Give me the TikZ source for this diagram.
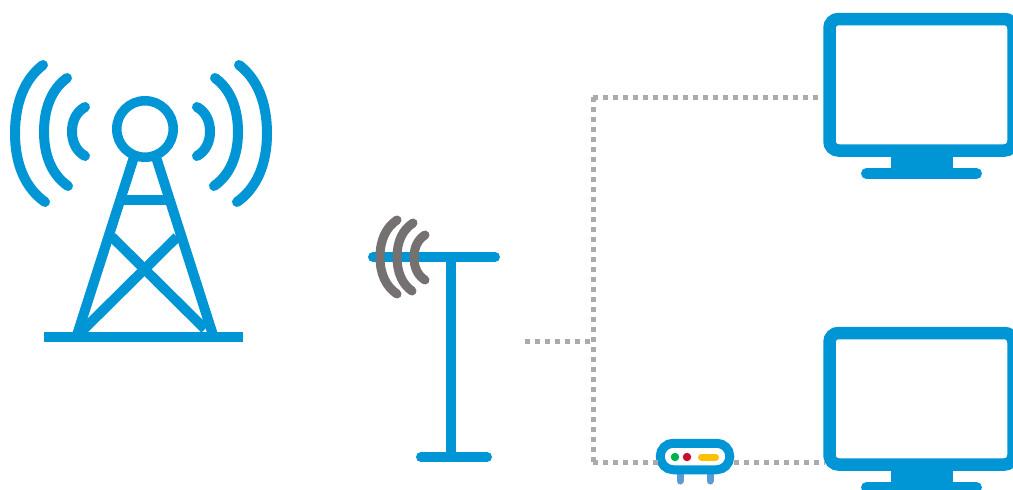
\documentclass[tikz,border=0pt]{standalone}
\usetikzlibrary{calc}
\definecolor{mainblue}{HTML}{0096D6}
\definecolor{wavegrey}{HTML}{767171}
\definecolor{dotgrey}{HTML}{ABABAB}
\definecolor{legblue}{HTML}{5B9BD5}
\definecolor{ledgreen}{HTML}{00B050}
\definecolor{ledred}{HTML}{C8102E}
\definecolor{ledyellow}{HTML}{FFC000}
% a wave: start x,y  middle x  end x,y
\newcommand{\wavearc}[6][]{%
  \draw[#1] (#2,#3)
    .. controls ({#4+0.35*(#2-#4)},{#3+0.2*((#3+#6)/2-#3)}) and (#4,{(#3+#6)/2-0.45*((#3+#6)/2-#3)}) .. (#4,{(#3+#6)/2})
    .. controls (#4,{(#3+#6)/2+0.45*(#6-(#3+#6)/2)}) and ({#4+0.35*(#5-#4)},{#6-0.2*(#6-(#3+#6)/2)}) .. (#5,#6);}
\tikzset{
  bluebar/.style={draw=mainblue,line width=10pt},
  bluewave/.style={draw=mainblue,line width=10pt,line cap=round},
  greywave/.style={draw=wavegrey,line width=9pt,line cap=round},
  roundbar/.style={draw=mainblue,line width=10pt,line cap=round},
  link/.style={draw=dotgrey,line width=5pt,dash pattern=on 5pt off 5pt},
  screen/.style={draw=mainblue,line width=12.5pt,rounded corners=9pt,fill=white,minimum width=184pt,minimum height=131.5pt,inner sep=0pt,outer sep=0pt},
  modem/.style={draw=mainblue,line width=9pt,rounded corners=13pt,fill=white,minimum width=69.5pt,minimum height=26.5pt,inner sep=0pt,outer sep=0pt},
  led/.style={circle,minimum size=8.5pt,inner sep=0pt},
}
\begin{document}
\begin{tikzpicture}[x=1pt,y=-1pt]
\useasboundingbox (0,0) rectangle (1013,490);
\fill[white] (0,0) rectangle (1013,490);
% ---- tower
\draw[bluebar] (134,157) -- (77,335);
\draw[bluebar] (156,157) -- (213,335);
\draw[bluebar] (124,200) -- (166,200);
\draw[bluebar] (112,237) -- (205,329);
\draw[bluebar] (177,237) -- (81,332);
\draw[draw=mainblue,line width=10pt] (44,337) -- (243,337);
\node[draw=mainblue,line width=9.5pt,circle,minimum size=56.5pt,inner sep=0pt,outer sep=0pt] (head) at (145,129) {};
\wavearc[bluewave]{43}{65}{15}{45}{202}
\wavearc[bluewave]{67}{78}{44}{68}{186}
\wavearc[bluewave]{85}{107}{72}{85}{156}
\wavearc[bluewave]{239}{65}{267}{237}{202}
\wavearc[bluewave]{215}{78}{238}{214}{186}
\wavearc[bluewave]{197}{107}{210}{197}{156}
% ---- mast
\draw[bluebar] (451,257) -- (451,457);
\draw[roundbar] (373,257) -- (495,257);
\draw[roundbar] (421,457) -- (487,457);
\wavearc[greywave]{397}{220}{380}{397}{294}
\wavearc[greywave]{413}{223}{397}{412}{291}
\wavearc[greywave]{425}{235}{414}{425}{280}
% ---- coordinates of the wiring
\coordinate (feed) at (525,341);
\coordinate (junction) at (593,341);
\coordinate (corner top) at (593,97);
\coordinate (corner bottom) at (593,462);
\coordinate (top end) at (820,97);
\coordinate (bottom end) at (825,462);
% ---- monitors
\foreach \n/\dy in {monitor one/0,monitor two/314}{
  \fill[mainblue] (891,{155+\dy}) rectangle (953,{170+\dy});
  \draw[draw=mainblue,line width=11pt,line cap=round] (866.5,{173.5+\dy}) -- (976.5,{173.5+\dy});
  \node[screen] (\n) at (921.5,{84.75+\dy}) {};
}
% ---- router
\draw[draw=legblue,line width=7pt,line cap=round] (680,472) -- (680,481);
\draw[draw=legblue,line width=7pt,line cap=round] (710,472) -- (710,481);
\node[modem] (router) at (695,456.5) {};
\node[led,fill=ledgreen] (green led) at (675,457) {};
\node[led,fill=ledred] (red led) at (687,457) {};
\draw[draw=ledyellow,line width=7pt,line cap=round] (701.5,457) -- (715.5,457);
% ---- dotted connectors
\draw[link] (feed) -- (junction);
\draw[link] (corner top) -- (corner bottom);
\draw[link] (corner top) -- (top end);
\draw[link] (corner bottom) -- (corner bottom -| router.west);
\draw[link] ([xshift=4.5pt]corner bottom -| router.east) -- (bottom end);
\end{tikzpicture}
\end{document}
